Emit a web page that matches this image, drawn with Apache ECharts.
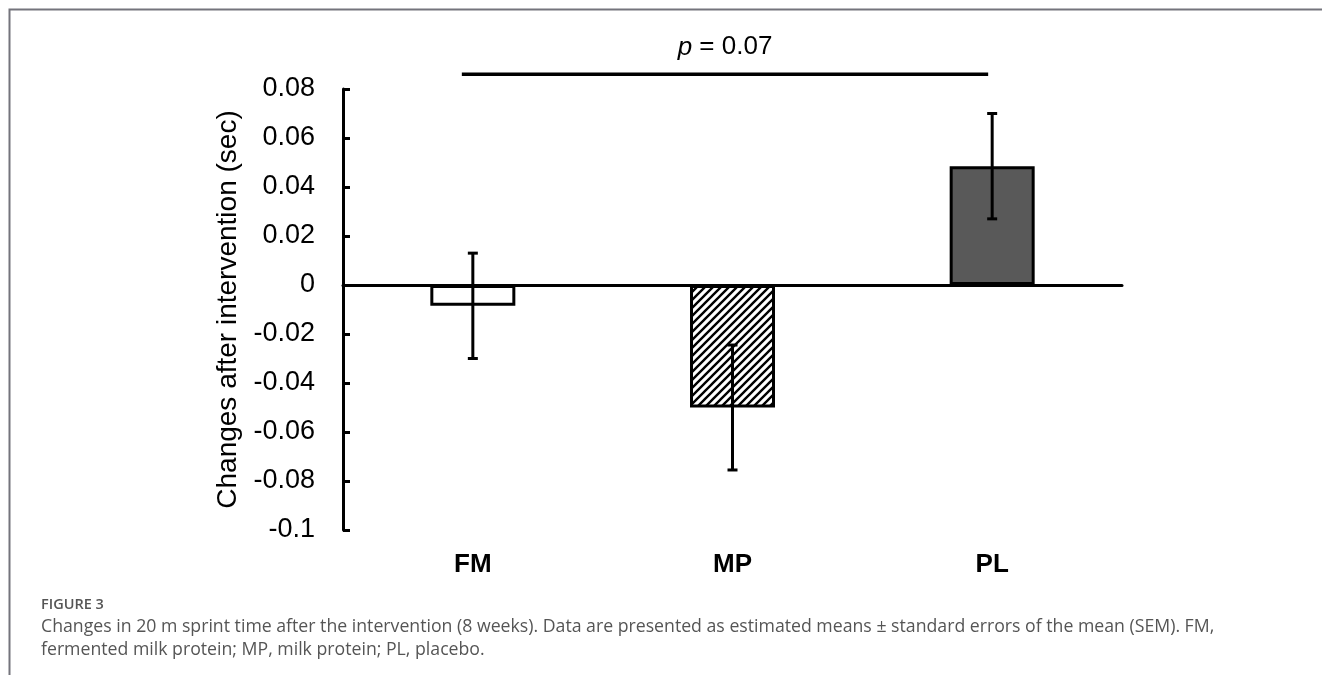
<!DOCTYPE html>
<html>
<head>
<meta charset="utf-8">
<script src="https://cdn.jsdelivr.net/npm/echarts@6/dist/echarts.min.js"></script>
<style>
html,body{margin:0;padding:0;background:#fff;}
#chart{width:1322px;height:675px;}
</style>
</head>
<body>
<div id="chart"></div>
<script>
// ---- data ----
const categories = ['FM', 'MP', 'PL'];
const means = [-0.0085, -0.05, 0.0485];
const sems = [0.0215, 0.0255, 0.0215];
const yTicks = { min: -0.1, max: 0.08, interval: 0.02 };
const sigPair = ['FM', 'PL'];
const sigLevel = 0.086;
const sigText = 'p = 0.07';
const yName = 'Changes after intervention (sec)';
const captionTitle = 'FIGURE 3';
const captionLines = [
  'Changes in 20 m sprint time after the intervention (8 weeks). Data are presented as estimated means \u00b1 standard errors of the mean (SEM). FM,',
  'fermented milk protein; MP, milk protein; PL, placebo.'
];

// hatch pattern
function makeHatch() {
  const s = 8;
  const c = document.createElement('canvas');
  c.width = s; c.height = s;
  const g = c.getContext('2d');
  g.fillStyle = '#fff'; g.fillRect(0, 0, s, s);
  g.strokeStyle = '#000'; g.lineWidth = 2.4;
  g.beginPath();
  g.moveTo(-2, s + 2); g.lineTo(s + 2, -2);
  g.moveTo(-2, 2); g.lineTo(2, -2);
  g.moveTo(s - 2, s + 2); g.lineTo(s + 2, s - 2);
  g.stroke();
  return c;
}
const fills = ['#ffffff', { image: makeHatch(), repeat: 'repeat' }, '#595959'];

const chart = echarts.init(document.getElementById('chart'), null, { renderer: 'canvas' });
const FONT = 'Liberation Sans, Arial, sans-serif';
const CAPFONT = 'Open Sans, sans-serif';

const barData = means.map((m, i) => ({ value: m, itemStyle: { color: fills[i] } }));
const errData = means.map((m, i) => [i, m - sems[i], m + sems[i]]);
const sigData = [[categories.indexOf(sigPair[0]), categories.indexOf(sigPair[1]), sigLevel]];

const option = {
  animation: false,
  backgroundColor: '#fff',
  grid: { left: 343, right: 200, top: 89, bottom: 145, containLabel: false },
  xAxis: [
    {
      type: 'category', data: categories, position: 'bottom',
      axisLine: { onZero: true, lineStyle: { color: '#000', width: 3 } },
      axisTick: { show: false }, axisLabel: { show: false }
    },
    {
      type: 'category', data: categories, position: 'bottom',
      axisLine: { show: false, onZero: false }, axisTick: { show: false },
      axisLabel: { color: '#000', fontSize: 26, fontWeight: 'bold', fontFamily: FONT, margin: 22 }
    }
  ],
  yAxis: {
    type: 'value', min: yTicks.min, max: yTicks.max, interval: yTicks.interval,
    name: yName, nameLocation: 'middle', nameGap: 96,
    nameTextStyle: { color: '#000', fontSize: 28, fontFamily: FONT },
    axisLine: { show: true, lineStyle: { color: '#000', width: 3 } },
    axisTick: { show: true, inside: true, length: 7, lineStyle: { color: '#000', width: 3 } },
    splitLine: { show: false },
    axisLabel: {
      color: '#000', fontSize: 27, fontFamily: FONT, margin: 28,
      formatter: v => String(parseFloat(v.toFixed(2)))
    }
  },
  series: [
    {
      type: 'bar', xAxisIndex: 0, data: barData, barWidth: 85,
      itemStyle: { borderColor: '#000', borderWidth: 3 }, z: 2
    },
    {
      type: 'custom', xAxisIndex: 0, data: errData, z: 5,
      encode: { x: 0, y: [1, 2] },
      renderItem: function (params, api) {
        const x = api.value(0);
        const lo = api.coord([x, api.value(1)]);
        const hi = api.coord([x, api.value(2)]);
        const w = 5;
        const st = { stroke: '#000', lineWidth: 3 };
        return {
          type: 'group', children: [
            { type: 'line', shape: { x1: lo[0], y1: lo[1], x2: hi[0], y2: hi[1] }, style: st },
            { type: 'line', shape: { x1: lo[0] - w, y1: lo[1], x2: lo[0] + w, y2: lo[1] }, style: st },
            { type: 'line', shape: { x1: hi[0] - w, y1: hi[1], x2: hi[0] + w, y2: hi[1] }, style: st }
          ]
        };
      }
    },
    {
      type: 'custom', xAxisIndex: 0, data: sigData, z: 5, clip: false,
      encode: { x: [0, 1], y: 2 },
      renderItem: function (params, api) {
        const a = api.coord([api.value(0), api.value(2)]);
        const b = api.coord([api.value(1), api.value(2)]);
        const x1 = a[0] - 11, x2 = b[0] - 4;
        return {
          type: 'group', children: [
            { type: 'line', shape: { x1: x1, y1: a[1], x2: x2, y2: b[1] }, style: { stroke: '#000', lineWidth: 3.5 } },
            {
              type: 'text', style: {
                x: (x1 + x2) / 2, y: a[1] - 27,
                text: '{i|p}' + sigText.slice(1),
                align: 'center', verticalAlign: 'middle',
                fontSize: 26, fontFamily: FONT, fill: '#000',
                rich: { i: { fontStyle: 'italic', fontSize: 26, fontFamily: FONT, fill: '#000' } }
              }
            }
          ]
        };
      }
    }
  ],
  graphic: [
    {
      type: 'polyline', silent: true,
      shape: { points: [[9.5, 700], [9.5, 9.5], [1340, 9.5]] },
      style: { stroke: '#74747c', lineWidth: 2, fill: null }
    },
    {
      type: 'text', left: 41, top: 597,
      style: { text: captionTitle, fontSize: 14.5, fontWeight: 600, fontFamily: CAPFONT, fill: '#555' }
    },
    {
      type: 'text', left: 41, top: 618,
      style: { text: captionLines[0], fontSize: 17.7, fontFamily: CAPFONT, fill: '#555' }
    },
    {
      type: 'text', left: 41, top: 641,
      style: { text: captionLines[1], fontSize: 17.7, fontFamily: CAPFONT, fill: '#555' }
    }
  ]
};
chart.setOption(option);
</script>
</body>
</html>
